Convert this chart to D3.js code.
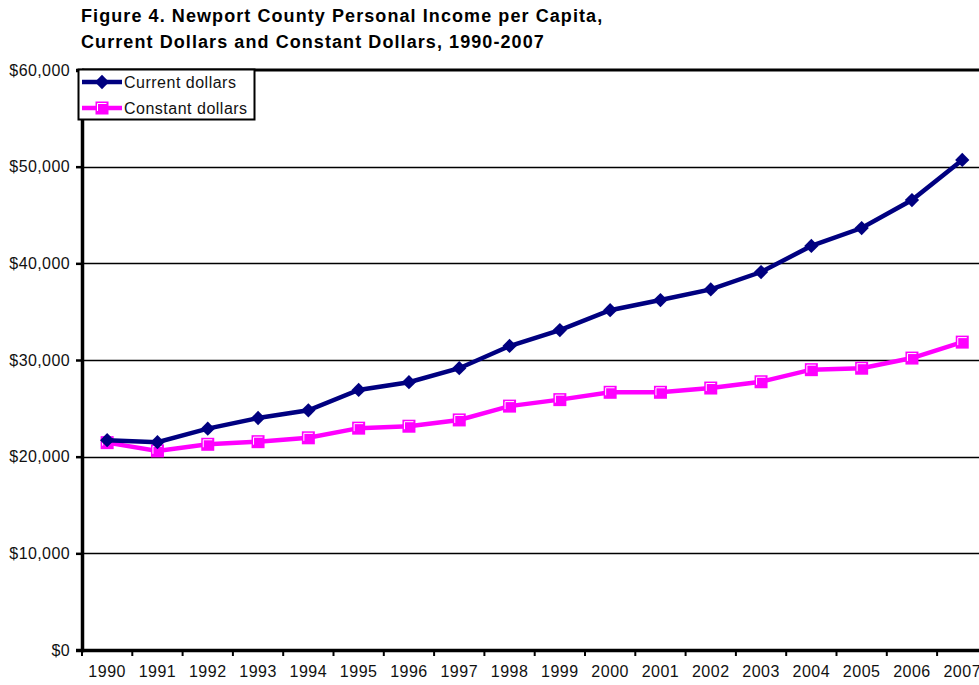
<!DOCTYPE html>
<html>
<head>
<meta charset="utf-8">
<script src="https://cdn.jsdelivr.net/npm/d3@7"></script>
<style>
  body { margin: 0; background: #fff; }
  svg { display: block; font-family: Arial, "Liberation Sans", sans-serif; }
</style>
</head>
<body>
<svg id="chart" width="979" height="685"></svg>
<script>
// chart data
var years = ["1990","1991","1992","1993","1994","1995","1996","1997","1998","1999",
             "2000","2001","2002","2003","2004","2005","2006","2007"];
var currentDollars = [21700, 21500, 22900, 24000, 24800, 26900, 27700, 29150, 31450, 33100,
                      35150, 36200, 37300, 39100, 41800, 43650, 46550, 50700];
var constantDollars = [21450, 20600, 21280, 21550, 21950, 22950, 23150, 23800, 25230, 25900,
                       26660, 26660, 27100, 27750, 29000, 29150, 30200, 31850];
var yTicks = [0, 10000, 20000, 30000, 40000, 50000, 60000];
var titleLines = ["Figure 4. Newport County Personal Income per Capita,",
                  "Current Dollars and Constant Dollars, 1990-2007"];

(function() {
    'use strict';
    var svg = d3.select("#chart");
    var plotLeft = 82, plotTop = 70, plotBottom = 650, band = 50.3;
    var font = "Arial, 'Liberation Sans', sans-serif";

    var x = d3.scaleBand().domain(years).range([plotLeft, plotLeft + band * years.length]);
    var y = d3.scaleLinear().domain([0, 60000]).range([plotBottom, plotTop]);
    var xc = function(d) { return x(d) + x.bandwidth() / 2; };

    // title
    svg.selectAll("text.title").data(titleLines).enter().append("text")
        .attr("class", "title")
        .attr("x", 81)
        .attr("y", function(d, i) { return 22 + i * 26; })
        .attr("font-size", "18px")
        .attr("letter-spacing", "1.08px")
        .attr("font-weight", "bold")
        .attr("fill", "#000")
        .text(function(d) { return d; });

    // gridlines
    svg.append("g").selectAll("line").data(yTicks.filter(function(d) { return d > 0 && d < 60000; }))
        .enter().append("line")
        .attr("x1", plotLeft).attr("x2", 979)
        .attr("y1", function(d) { return Math.round(y(d)) + 0.5; })
        .attr("y2", function(d) { return Math.round(y(d)) + 0.5; })
        .attr("stroke", "#000").attr("stroke-width", 1.4);

    // top border
    svg.append("line")
        .attr("x1", plotLeft).attr("x2", 979).attr("y1", plotTop).attr("y2", plotTop)
        .attr("stroke", "#000").attr("stroke-width", 3);

    // y axis
    var yAxis = d3.axisLeft(y).tickValues(yTicks).tickSize(6).tickPadding(6)
        .tickFormat(function(d) { return "$" + d3.format(",")(d); });
    var gy = svg.append("g").attr("transform", "translate(" + plotLeft + ",0)").call(yAxis);
    gy.select(".domain").attr("stroke-width", 3.5);
    gy.selectAll(".tick line").attr("stroke-width", 2.5);
    gy.selectAll("text").attr("font-size", "16px").attr("letter-spacing", "0.4px")
        .attr("font-family", font).attr("fill", "#111");

    // x axis
    var xAxis = d3.axisBottom(x).tickSize(0).tickPadding(16);
    var gx = svg.append("g").attr("transform", "translate(0," + plotBottom + ")").call(xAxis);
    gx.select(".domain").attr("stroke-width", 3.5);
    gx.selectAll("text").attr("font-size", "16px").attr("letter-spacing", "0.5px")
        .attr("font-family", font).attr("fill", "#111");
    // category separator ticks
    gx.append("g").selectAll("line").data(years).enter().append("line")
        .attr("x1", function(d) { return x(d); }).attr("x2", function(d) { return x(d); })
        .attr("y1", 0).attr("y2", 6)
        .attr("stroke", "#000").attr("stroke-width", 2);

    var line = d3.line().x(function(d, i) { return xc(years[i]); }).y(function(d) { return y(d); });

    // constant dollars
    svg.append("path").datum(constantDollars)
        .attr("d", line).attr("fill", "none")
        .attr("stroke", "#ff00ff").attr("stroke-width", 4.5);
    function squareMarker(g, cx, cy) {
        g.append("rect").attr("x", cx - 6.5).attr("y", cy - 6.5).attr("width", 13).attr("height", 13)
            .attr("fill", "#ff00ff");
        g.append("path").attr("d", "M" + (cx - 4.5) + "," + (cy + 3) + "V" + (cy - 4.5) + "H" + (cx + 4.5))
            .attr("fill", "none").attr("stroke", "#fff").attr("stroke-width", 1);
    }
    var gm = svg.append("g");
    constantDollars.forEach(function(d, i) { squareMarker(gm, xc(years[i]), y(d)); });

    // current dollars
    svg.append("path").datum(currentDollars)
        .attr("d", line).attr("fill", "none")
        .attr("stroke", "#000080").attr("stroke-width", 4.5);
    svg.append("g").selectAll("path").data(currentDollars).enter().append("path")
        .attr("d", d3.symbol().type(d3.symbolDiamond2).size(130))
        .attr("transform", function(d, i) { return "translate(" + xc(years[i]) + "," + y(d) + ")"; })
        .attr("fill", "#000080");

    // legend
    var lg = svg.append("g");
    lg.append("rect").attr("x", 78.5).attr("y", 69.5).attr("width", 176).attr("height", 50)
        .attr("fill", "#fff").attr("stroke", "#000").attr("stroke-width", 2);
    lg.append("line").attr("x1", 82).attr("x2", 122).attr("y1", 82).attr("y2", 82)
        .attr("stroke", "#000080").attr("stroke-width", 4.5);
    lg.append("path").attr("d", d3.symbol().type(d3.symbolDiamond2).size(130))
        .attr("transform", "translate(102,82)").attr("fill", "#000080");
    lg.append("line").attr("x1", 82).attr("x2", 122).attr("y1", 108).attr("y2", 108)
        .attr("stroke", "#ff00ff").attr("stroke-width", 4.5);
    squareMarker(lg, 102, 108);
    lg.append("text").attr("x", 124).attr("y", 88).attr("font-size", "16px").attr("letter-spacing", "0.5px")
        .attr("fill", "#111").text("Current dollars");
    lg.append("text").attr("x", 124).attr("y", 114).attr("font-size", "16px").attr("letter-spacing", "0.5px")
        .attr("fill", "#111").text("Constant dollars");
}());
</script>
</body>
</html>
